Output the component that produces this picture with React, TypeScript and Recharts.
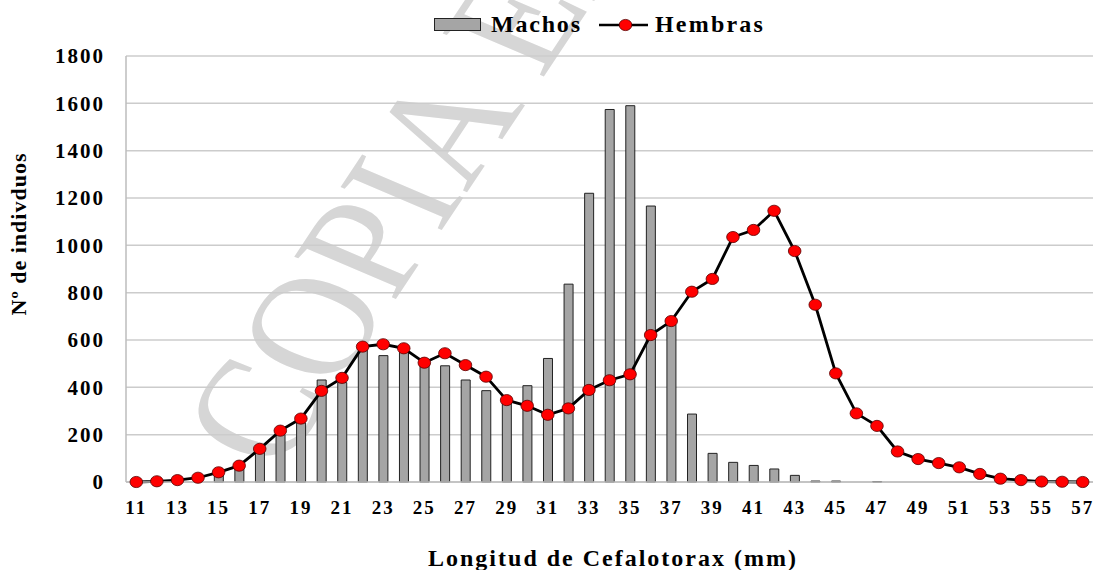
import React from 'react'
import { ComposedChart, Bar, Line, XAxis, YAxis, CartesianGrid, Legend } from 'recharts'

const lengths = [
  11, 12, 13, 14, 15, 16, 17, 18, 19, 20, 21, 22, 23, 24, 25, 26, 27, 28, 29, 30, 31, 32, 33, 34,
  35, 36, 37, 38, 39, 40, 41, 42, 43, 44, 45, 46, 47, 48, 49, 50, 51, 52, 53, 54, 55, 56, 57,
]

const machos = [
  0, 0, 0, 0, 35, 55, 130, 200, 250, 431, 420, 560, 534, 555, 500, 491, 431, 386, 340, 407, 522, 836, 1220, 1574,
  1590, 1166, 665, 287, 121, 83, 70, 55, 28, 4, 4, 0, 2, 0, 0, 0, 0, 0, 0, 0, 0, 0, 0,
]

const hembras = [
  0, 3, 8, 18, 41, 69, 140, 217, 268, 385, 440, 572, 582, 565, 504, 544, 494, 445, 346, 322, 284, 311, 389, 430,
  455, 621, 680, 804, 858, 1035, 1065, 1146, 976, 749, 459, 290, 237, 129, 97, 80, 62, 34, 14, 8, 2, 1, 0,
]

const yTicks = [0, 200, 400, 600, 800, 1000, 1200, 1400, 1600, 1800]

const data = lengths.map((len, i) => ({ len, machos: machos[i], hembras: hembras[i] }))

const FONT = '"Liberation Serif", "Times New Roman", serif'

const Dot = (props: any) => {
  const { cx, cy } = props
  if (cx == null || cy == null) return null
  return <ellipse cx={cx} cy={cy} rx={6.3} ry={5.6} fill="#ff0000" stroke="#5a0000" strokeWidth={0.8} />
}

const LegendBox = () => (
  <div style={{ position: 'relative', width: 1104, height: 40, fontFamily: FONT, fontWeight: 'bold', fontSize: 24 }}>
    <div style={{ position: 'absolute', left: 434, top: 18, width: 45, height: 11, background: '#a5a5a5', border: '1.5px solid #222' }} />
    <span style={{ position: 'absolute', left: 491, top: 12, lineHeight: '24px', letterSpacing: 1.8 }}>Machos</span>
    <svg style={{ position: 'absolute', left: 596, top: 15 }} width={56} height={20}>
      <line x1={3} y1={10} x2={52} y2={10} stroke="#000" strokeWidth={2.5} />
      <ellipse cx={29.5} cy={10} rx={6.3} ry={5.6} fill="#ff0000" stroke="#5a0000" strokeWidth={0.8} />
    </svg>
    <span style={{ position: 'absolute', left: 655, top: 12, lineHeight: '24px', letterSpacing: 2.2 }}>Hembras</span>
  </div>
)

const YLabel = () => (
  <text
    x={26}
    y={234}
    transform="rotate(-90, 26, 234)"
    textAnchor="middle"
    fontFamily={FONT}
    fontWeight="bold"
    fontSize={22}
    letterSpacing={1}
    fill="#000"
  >
    Nº de indivduos
  </text>
)

const XLabel = () => (
  <text x={613} y={566} textAnchor="middle" fontFamily={FONT} fontWeight="bold" fontSize={24} letterSpacing={2} fill="#000">
    Longitud de Cefalotorax (mm)
  </text>
)

export default function App() {
  return (
    <div style={{ position: 'absolute', left: 0, top: 0, width: 1104, height: 570, overflow: 'hidden', background: '#fff' }}>
      {/* watermark, stretched like the source image */}
      <svg style={{ position: 'absolute', left: 0, top: 0 }} width={1104} height={570}>
        <text
          x={0}
          y={0}
          transform="translate(279, 475) scale(1.25, 1) rotate(-62)"
          fontFamily={FONT}
          fontSize={140}
          fill="#d6d6d6"
        >
          COPIA ELE
        </text>
      </svg>
      <div style={{ position: 'absolute', left: 0, top: 0 }}>
        <ComposedChart width={1104} height={570} data={data} margin={{ top: 56, right: 11, left: 0, bottom: 0 }}>
          <CartesianGrid vertical={false} stroke="#cccccc" strokeWidth={1.5} />
          <XAxis
            dataKey="len"
            interval={1}
            height={88}
            tickLine={false}
            tickSize={0}
            tickMargin={19}
            axisLine={{ stroke: '#bdbdbd', strokeWidth: 1.5 }}
            tick={{ fontFamily: FONT, fontWeight: 'bold', fontSize: 19, fill: '#000', letterSpacing: 2 }}
            label={<XLabel />}
          />
          <YAxis
            width={126}
            domain={[0, 1800]}
            ticks={yTicks}
            tickLine={false}
            tickSize={0}
            tickMargin={21}
            axisLine={{ stroke: '#bdbdbd', strokeWidth: 1.5 }}
            tick={{ fontFamily: FONT, fontWeight: 'bold', fontSize: 21, fill: '#000', letterSpacing: 2 }}
            label={<YLabel />}
          />
          <Legend layout="horizontal" verticalAlign="middle" align="center" wrapperStyle={{ top: 0, left: 0, width: 1104 }} content={<LegendBox />} />
          <Bar dataKey="machos" name="Machos" barSize={9} fill="#a5a5a5" stroke="#222" strokeWidth={1} isAnimationActive={false} />
          <Line
            dataKey="hembras"
            name="Hembras"
            type="linear"
            stroke="#000"
            strokeWidth={2.8}
            dot={<Dot />}
            activeDot={false}
            isAnimationActive={false}
          />
        </ComposedChart>
      </div>
    </div>
  )
}
